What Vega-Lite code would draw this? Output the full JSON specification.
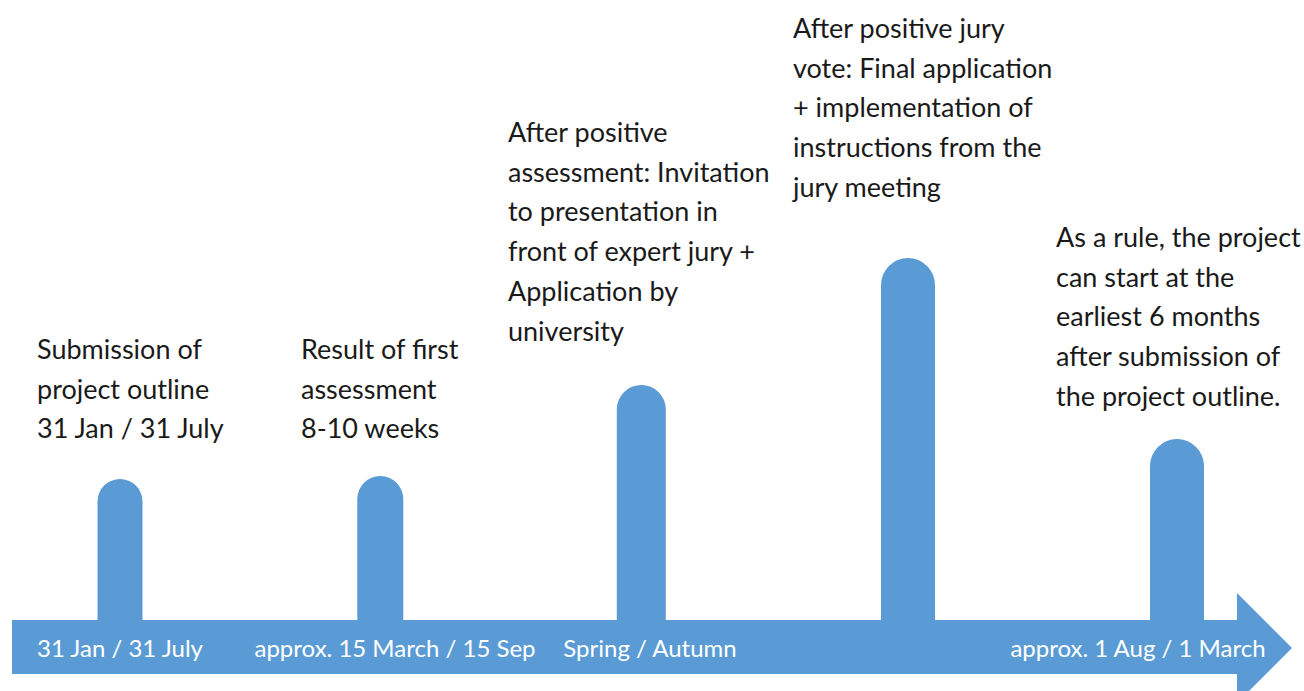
{
  "$schema": "https://vega.github.io/schema/vega-lite/v6.json",
  "width": 1304,
  "height": 691,
  "padding": 0,
  "autosize": {"type": "fit", "contains": "padding"},
  "background": "#ffffff",
  "config": {"view": {"stroke": null}},
  "datasets": {
    "milestones": [
      {"step": 1, "x": 120, "base": 640, "capY": 501.5, "w": 45, "labelX": 37, "labelY": 359, "label": "Submission of\nproject outline\n31 Jan / 31 July", "date": "31 Jan / 31 July", "dateX": 120, "dateY": 657},
      {"step": 2, "x": 380.3, "base": 640, "capY": 499, "w": 46, "labelX": 301, "labelY": 359, "label": "Result of first\nassessment\n8-10 weeks", "date": "approx. 15 March / 15 Sep", "dateX": 395, "dateY": 657},
      {"step": 3, "x": 641.3, "base": 640, "capY": 409.5, "w": 49, "labelX": 508, "labelY": 142, "label": "After positive\nassessment: Invitation\nto presentation in\nfront of expert jury +\nApplication by\nuniversity", "date": "Spring / Autumn", "dateX": 650, "dateY": 657},
      {"step": 4, "x": 908, "base": 640, "capY": 285, "w": 54, "labelX": 793, "labelY": 38, "label": "After positive jury\nvote: Final application\n+ implementation of\ninstructions from the\njury meeting", "date": "", "dateX": 908, "dateY": 657},
      {"step": 5, "x": 1177, "base": 640, "capY": 466, "w": 54, "labelX": 1056, "labelY": 247, "label": "As a rule, the project\ncan start at the\nearliest 6 months\nafter submission of\nthe project outline.", "date": "approx. 1 Aug / 1 March", "dateX": 1138, "dateY": 657}
    ],
    "shaft": [{"x": 12, "x2": 1238, "y": 620, "y2": 674}],
    "head": [
      {"x": 1237, "top": 593, "bottom": 703},
      {"x": 1292, "top": 648, "bottom": 648}
    ]
  },
  "layer": [
    {
      "data": {"name": "shaft"},
      "mark": {"type": "rect", "color": "#5B9BD5"},
      "encoding": {
        "x": {"field": "x", "type": "quantitative", "scale": {"domain": [0, 1304], "nice": false, "zero": false}, "axis": null},
        "x2": {"field": "x2"},
        "y": {"field": "y", "type": "quantitative", "scale": {"domain": [0, 691], "nice": false, "zero": false, "reverse": true}, "axis": null},
        "y2": {"field": "y2"}
      }
    },
    {
      "data": {"name": "head"},
      "mark": {"type": "area", "color": "#5B9BD5", "clip": true, "orient": "vertical"},
      "encoding": {
        "x": {"field": "x", "type": "quantitative"},
        "y": {"field": "top", "type": "quantitative"},
        "y2": {"field": "bottom"}
      }
    },
    {
      "data": {"name": "milestones"},
      "mark": {"type": "rule", "color": "#5B9BD5", "strokeCap": "round"},
      "encoding": {
        "x": {"field": "x", "type": "quantitative"},
        "y": {"field": "base", "type": "quantitative"},
        "y2": {"field": "capY"},
        "strokeWidth": {"field": "w", "type": "quantitative", "scale": null, "legend": null}
      }
    },
    {
      "data": {"name": "milestones"},
      "mark": {"type": "text", "align": "left", "baseline": "alphabetic", "lineBreak": "\n", "font": "Lato", "fontSize": 27, "lineHeight": 39.7, "color": "#1a1a1a"},
      "encoding": {
        "x": {"field": "labelX", "type": "quantitative"},
        "y": {"field": "labelY", "type": "quantitative"},
        "text": {"field": "label"}
      }
    },
    {
      "data": {"name": "milestones"},
      "mark": {"type": "text", "align": "center", "baseline": "alphabetic", "font": "Lato", "fontSize": 24, "color": "#ffffff"},
      "encoding": {
        "x": {"field": "dateX", "type": "quantitative"},
        "y": {"field": "dateY", "type": "quantitative"},
        "text": {"field": "date"}
      }
    }
  ]
}
